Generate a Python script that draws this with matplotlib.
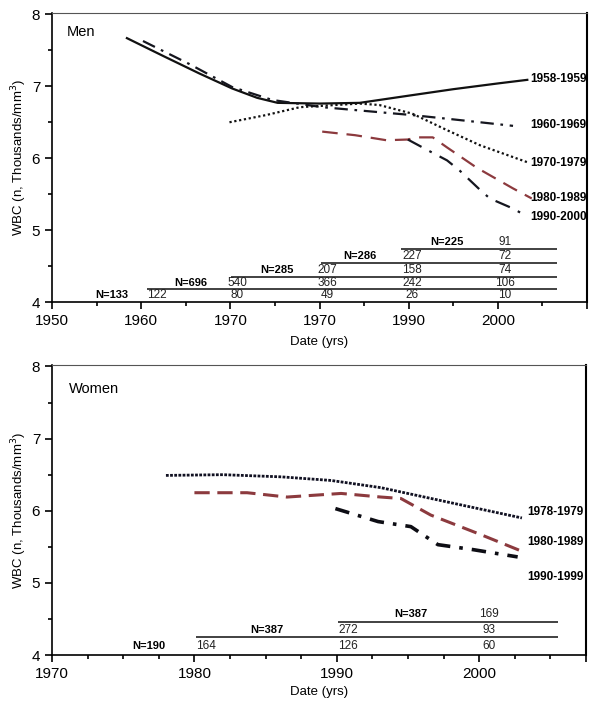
import matplotlib
matplotlib.use("Agg")
from matplotlib import pyplot as plt
from matplotlib.ticker import MultipleLocator, FixedLocator

plt.rcParams['font.family'] = ['Liberation Sans', 'DejaVu Sans']

# ---- Men data ----
men_cohorts = ['1958-1959', '1960-1969', '1970-1979', '1980-1989', '1990-2000']
m58_x = [1958.4, 1962.5, 1966.5, 1970.2, 1973, 1975.3, 1980, 1984.5, 1990, 1995, 2000, 2003.3]
m58_y = [7.67, 7.42, 7.18, 6.97, 6.84, 6.77, 6.76, 6.77, 6.87, 6.96, 7.04, 7.09]
m60_x = [1960.2, 1965.4, 1970.2, 1974.7, 1980.3, 1986.7, 1990.4, 1995, 1998, 2001.7]
m60_y = [7.63, 7.31, 6.99, 6.81, 6.71, 6.64, 6.60, 6.54, 6.50, 6.45]
m70_x = [1969.9, 1974, 1977.8, 1984.5, 1986.7, 1990.4, 1994.3, 1998, 2003.4]
m70_y = [6.50, 6.60, 6.71, 6.76, 6.74, 6.62, 6.39, 6.18, 5.94]
m80_x = [1980.3, 1984, 1987.5, 1989.9, 1990.9, 1992.7, 1994.3, 1997.6, 2001.7, 2003.8]
m80_y = [6.37, 6.32, 6.25, 6.26, 6.29, 6.29, 6.15, 5.87, 5.58, 5.44]
m90_x = [1989.9, 1992, 1994.3, 1995.7, 1998, 1999.1, 2001.7, 2003]
m90_y = [6.26, 6.12, 5.97, 5.83, 5.56, 5.44, 5.30, 5.21]
men_N = [133, 696, 285, 286, 225]
men_counts = [[122, 80, 49, 26, 10],
              [540, 366, 242, 106],
              [207, 158, 74],
              [227, 72],
              [91]]
men_xticks = [1950, 1960, 1970, 1980, 1990, 2000, 2010]
men_xticklabels = ['1950', '1960', '1970', '1970', '1990', '2000', '']

# ---- Women data ----
women_cohorts = ['1978-1979', '1980-1989', '1990-1999']
w78_x = [1978.0, 1982, 1986.1, 1989.6, 1993.1, 1997.8, 2003]
w78_y = [6.49, 6.50, 6.47, 6.42, 6.32, 6.12, 5.90]
w80_x = [1980.0, 1983.7, 1986.5, 1990.3, 1993.1, 1994.5, 1996.6, 2000.1, 2003.1]
w80_y = [6.25, 6.25, 6.19, 6.24, 6.19, 6.17, 5.94, 5.67, 5.43]
w90_x = [1989.9, 1992.9, 1995.2, 1997.1, 1999.6, 2002.7]
w90_y = [6.03, 5.85, 5.78, 5.53, 5.46, 5.36]
women_N = [190, 387, 387]
women_counts = [[164, 126, 60],
                [272, 93],
                [169]]
women_xticks = [1970, 1980, 1990, 2000, 2007.5]
women_xticklabels = ['1970', '1980', '1990', '2000', '']

red = '#8c3a3e'
navy = '#15161f'

fig = plt.figure(figsize=(6, 7.05), dpi=100)
ax1 = fig.add_axes([0.0867, 0.5716, 0.8917, 0.41])
ax2 = fig.add_axes([0.0867, 0.0709, 0.89, 0.4113])


def style_axes(ax, xlim, ticks, minor, labels, xpad):
    ax.set_xlim(*xlim)
    ax.set_ylim(4, 8.02)
    ax.xaxis.set_major_locator(FixedLocator(ticks))
    ax.set_xticklabels(labels)
    ax.xaxis.set_minor_locator(MultipleLocator(minor))
    ax.yaxis.set_major_locator(MultipleLocator(1))
    ax.yaxis.set_minor_locator(MultipleLocator(0.5))
    ax.tick_params(which='both', direction='out', labelsize=11, width=1.2)
    ax.tick_params(which='major', length=5)
    ax.tick_params(which='minor', length=3)
    ax.spines['left'].set_linewidth(1.2)
    ax.spines['bottom'].set_linewidth(1.2)
    ax.spines['top'].set_linewidth(0.8)
    ax.spines['top'].set_color('#555555')
    ax.spines['right'].set_linewidth(1.5)
    ax.set_ylabel('WBC (n, Thousands/mm$^3$)', fontsize=9.5, labelpad=2)
    ax.set_xlabel('Date (yrs)', fontsize=9.5, labelpad=xpad)


def draw_table(ax, N, counts, n_x, col_x, row_y, line_y, line_start, line_end):
    for i in range(len(N)):
        ax.text(n_x[i], row_y[i], 'N=%d' % N[i], fontsize=8, fontweight='bold',
                ha='center', va='center')
        cols = col_x[len(col_x) - len(counts[i]):]
        for cx, v in zip(cols, counts[i]):
            ax.text(cx, row_y[i], str(v), fontsize=8.5, ha='center', va='center',
                    color='#222222')
    for ly, ls in zip(line_y, line_start):
        ax.hlines(ly, ls, line_end, color='#333333', lw=1.3)


# ---- Men panel ----
style_axes(ax1, (1950, 2010), men_xticks, 5, men_xticklabels, 6)
ax1.plot(m58_x, m58_y, color='#111111', lw=1.6, ls='-')
ax1.plot(m60_x, m60_y, color=navy, lw=1.6, ls=(0, (6, 3, 1.2, 3)))
ax1.plot(m70_x, m70_y, color='#111111', lw=1.6, ls=(0, (1, 1.2)))
ax1.plot(m80_x, m80_y, color=red, lw=1.6, ls=(0, (7, 4)))
ax1.plot(m90_x, m90_y, color=navy, lw=1.6, ls=(0, (7, 4, 1.2, 4)))
men_label_y = [7.10, 6.46, 5.94, 5.44, 5.18]
for lab, ly in zip(men_cohorts, men_label_y):
    ax1.text(2003.6, ly, lab, fontsize=8.5, fontweight='bold', va='center', ha='left')
ax1.text(0.028, 0.934, 'Men', transform=ax1.transAxes, fontsize=10.5, va='center')
draw_table(ax1, men_N, men_counts,
           n_x=[1956.7, 1965.6, 1975.2, 1984.5, 1994.3],
           col_x=[1961.8, 1970.8, 1980.9, 1990.4, 2000.8],
           row_y=[4.10, 4.26, 4.44, 4.64, 4.83],
           line_y=[4.18, 4.35, 4.54, 4.74],
           line_start=[1960.7, 1970.1, 1980.2, 1989.1],
           line_end=2006.6)

# ---- Women panel ----
style_axes(ax2, (1970, 2007.5), women_xticks, 2.5, women_xticklabels, 4)
ax2.plot(w78_x, w78_y, color='#111122', lw=2.0, ls=(0, (1, 0.5)))
ax2.plot(w80_x, w80_y, color=red, lw=2.2, ls=(0, (5, 2.5)))
ax2.plot(w90_x, w90_y, color='#0d0d14', lw=2.6, ls=(0, (4, 2.5, 1, 2.5)))
women_label_y = [5.98, 5.56, 5.08]
for lab, ly in zip(women_cohorts, women_label_y):
    ax2.text(2003.4, ly, lab, fontsize=8.5, fontweight='bold', va='center', ha='left')
ax2.text(0.032, 0.917, 'Women', transform=ax2.transAxes, fontsize=10.5, va='center')
draw_table(ax2, women_N, women_counts,
           n_x=[1976.8, 1985.1, 1995.2],
           col_x=[1980.8, 1990.8, 2000.7],
           row_y=[4.125, 4.35, 4.57],
           line_y=[4.25, 4.46],
           line_start=[1980.1, 1990.1],
           line_end=2005.5)

fig.savefig('out.png', dpi=100)
